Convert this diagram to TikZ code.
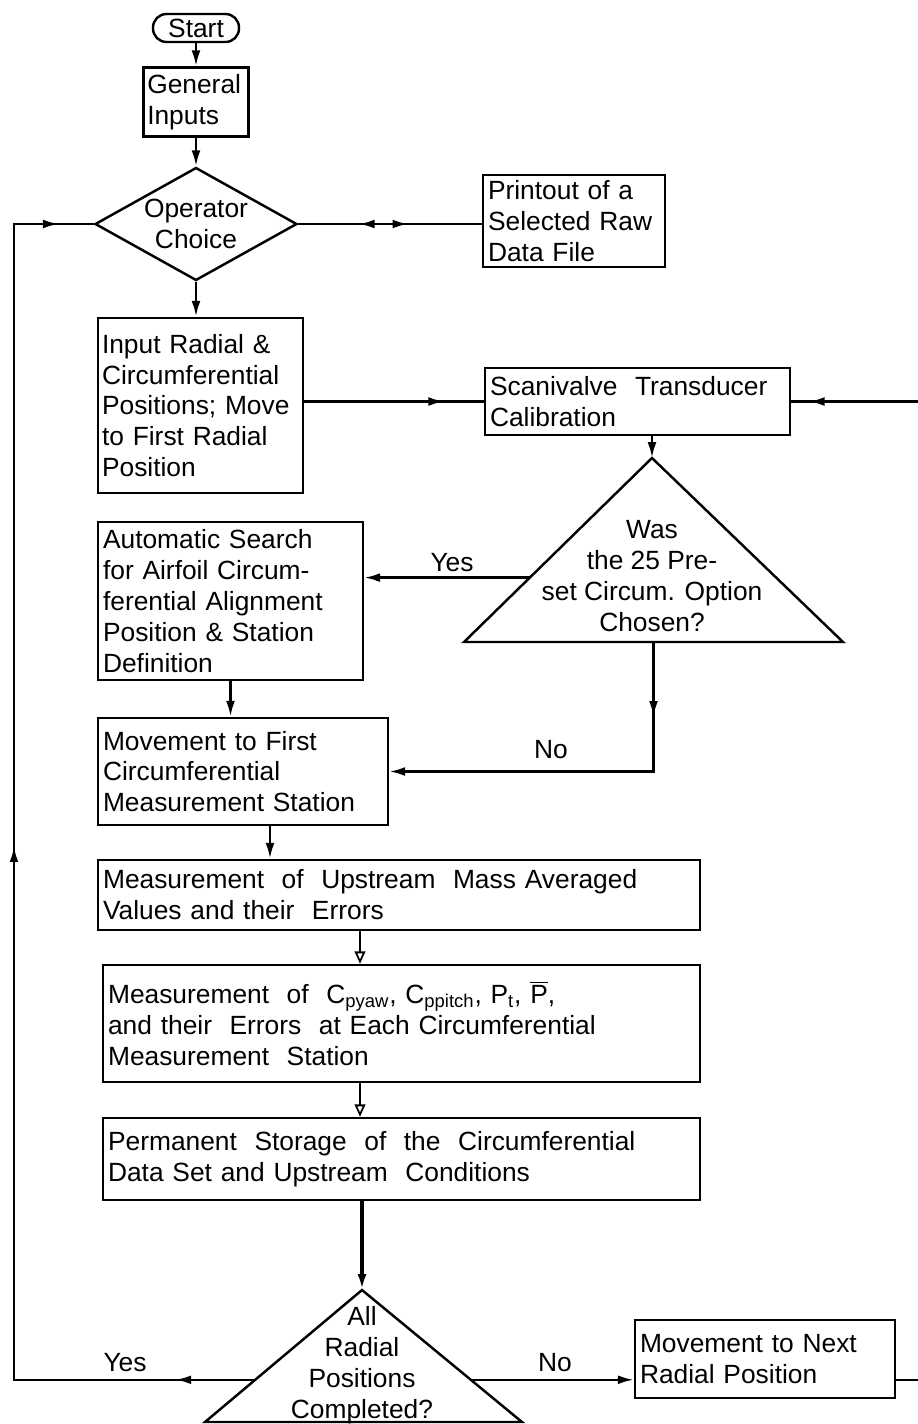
\documentclass[tikz,border=0pt]{standalone}
\usepackage{fontspec}
\setmainfont{Liberation Sans}
\usepackage{tikz}
\usetikzlibrary{positioning, shapes.geometric, calc, arrows.meta, decorations.markings}

\tikzset{
  >={Latex[length=9pt, width=5pt]},
  box/.style={draw, rectangle, line width=1.4pt, align=left, inner sep=0.1cm},
  line/.style={line width=1.4pt},
  lbl/.style={inner sep=0pt},
  midtip/.style={postaction={decorate, decoration={markings, mark=at position #1 with {\arrow{>}}}}},
  midback/.style={postaction={decorate, decoration={markings, mark=at position #1 with {\arrowreversed{>}}}}},
  opentip/.style={-{Triangle[open, length=7pt, width=6pt]}, line width=1pt}
}

\begin{document}
\begin{tikzpicture}[x=0.02cm, y=-0.02cm, font=\fontsize{15}{17.6}\selectfont]
      \useasboundingbox (0,0) rectangle (918,1424);

      % Start and inputs
      \node[draw, line width=1.4pt, rounded corners=0.27cm, minimum width=1.72cm, minimum height=0.56cm, inner sep=0pt] (start) at (196, 28) {Start};

      \node[box, minimum width=2.1cm, minimum height=1.38cm, text width=1.95cm, inner sep=0.06cm] (gen) at (196, 102) {
        General\\Inputs
      };

      \node[draw, diamond, aspect=1.79, line width=1.4pt, minimum width=4.04cm, minimum height=2.26cm, inner sep=0pt,
            label={[align=center]center:Operator\\Choice}] (opch) at (196, 224) {};

      \node[box, minimum width=3.64cm, minimum height=1.84cm, text width=3.44cm] (print) at (574, 221) {
        Printout of a\\Selected Raw\\Data File
      };

      % Radial position and calibration
      \node[box, minimum width=4.1cm, minimum height=3.5cm, text width=3.94cm, inner sep=0.08cm] (inp) at (200.5, 405.5) {
        Input Radial \&\\Circumferential\\Positions; Move\\to First Radial\\Position
      };

      \node[box, minimum width=6.1cm, minimum height=1.34cm, text width=5.9cm] (scan) at (637.5, 401.5) {
        Scanivalve\ \ Transducer\\Calibration
      };

      % Decision: preset option
      \coordinate (wasT) at (652, 458);
      \coordinate (wasL) at (464, 642);
      \coordinate (wasR) at (843, 642);
      \coordinate (wasB) at ($(wasL)!0.5!(wasR)$);
      \coordinate (wasY) at ($(wasT)!0.65!(wasL)$);
      \draw[line] (wasT) -- (wasL) -- (wasR) -- cycle;
      \node[align=center, inner sep=0pt] (was) at (652, 576) {
        Was\\the 25 Pre-\\set Circum. Option\\Chosen?
      };

      \node[box, minimum width=5.3cm, minimum height=3.16cm, text width=5.1cm] (auto) at (230.5, 601) {
        Automatic Search\\for Airfoil Circum-\\ferential Alignment\\Position \& Station\\Definition
      };

      \node[box, minimum width=5.8cm, minimum height=2.14cm, text width=5.6cm] (move1) at (243, 771.5) {
        Movement to First\\Circumferential\\Measurement Station
      };

      % Measurements
      \node[box, minimum width=12.04cm, minimum height=1.4cm, text width=11.84cm] (ups) at (399, 895) {
        Measurement\ \ of\ \ Upstream\ \ Mass Averaged\\Values and their\ \ Errors
      };

      \node[box, minimum width=11.94cm, minimum height=2.34cm, text width=11.74cm] (cp) at (401.5, 1023.5) {
        Measurement\ \ of\ \ C\textsubscript{pyaw}, C\textsubscript{ppitch}, P\textsubscript{t}, $\overline{\mbox{P}}$,\\and their\ \ Errors\ \ at Each Circumferential\\Measurement\ \ Station
      };

      \node[box, minimum width=11.94cm, minimum height=1.64cm, text width=11.74cm] (perm) at (401.5, 1159) {
        Permanent\ \ Storage\ \ of\ \ the\ \ Circumferential\\Data Set and Upstream\ \ Conditions
      };

      % Decision: all radial positions
      \coordinate (allT) at (362, 1290);
      \coordinate (allL) at (205, 1422);
      \coordinate (allR) at (522, 1422);
      \coordinate (allY) at ($(allT)!0.68!(allL)$);
      \coordinate (allN) at ($(allT)!0.68!(allR)$);
      \draw[line] (allT) -- (allL) -- (allR) -- cycle;
      \node[align=center, inner sep=0pt] (all) at (362, 1365) {
        All\\Radial\\Positions\\Completed?
      };

      \node[box, minimum width=5.2cm, minimum height=1.56cm, text width=5.0cm] (next) at (765, 1359) {
        Movement to Next\\Radial Position
      };

      % Loop coordinates
      \coordinate (back) at (14, 0);
      \coordinate (fwd) at (920, 0);

      % Arrows
      \draw[line, ->] (start) -- (gen);
      \draw[line, ->] (gen) -- (opch);
      \draw[line, ->] (opch) -- (opch.south |- inp.north);
      \draw[line, midback=0.33, midtip=0.6] (opch.east) -- (opch.east -| print.west);
      \draw[line, midtip=0.78] (scan.west -| inp.east) -- (scan.west);
      \draw[line, ->] (wasT |- scan.south) -- (wasT);
      \draw[line, ->] (wasY) -- (wasY -| auto.east);
      \draw[line, ->] (auto.south) -- (auto.south |- move1.north);
      \draw[line, ->, midtip=1.5cm] (wasB) |- (move1.east);
      \draw[line, ->] ([xshift=0.54cm]move1.south) -- ([xshift=0.54cm]move1.south |- ups.north);
      \draw[opentip] ([xshift=-0.78cm]ups.south) -- ([xshift=-0.78cm]ups.south |- cp.north);
      \draw[opentip] ([xshift=-0.83cm]cp.south) -- ([xshift=-0.83cm]cp.south |- perm.north);
      \draw[->, line width=2.6pt] (allT |- perm.south) -- (allT);
      \draw[line, ->] (allN) -- (allN -| next.west);
      \draw[line, midtip=1.6cm, midtip=15.5cm, midtip=-0.7cm] (allY) -- (allY -| back) |- (opch.west);
      \draw[line, midtip=-0.35cm] (next.east |- allN) -- (allN -| fwd) |- (scan.east);

      % Labels
      \node[lbl] (yes1) at (452, 563) {Yes};
      \node[lbl] (no1) at (551, 750) {No};
      \node[lbl] (yes2) at (125, 1363) {Yes};
      \node[lbl] (no2) at (555, 1363) {No};
\end{tikzpicture}
\end{document}
